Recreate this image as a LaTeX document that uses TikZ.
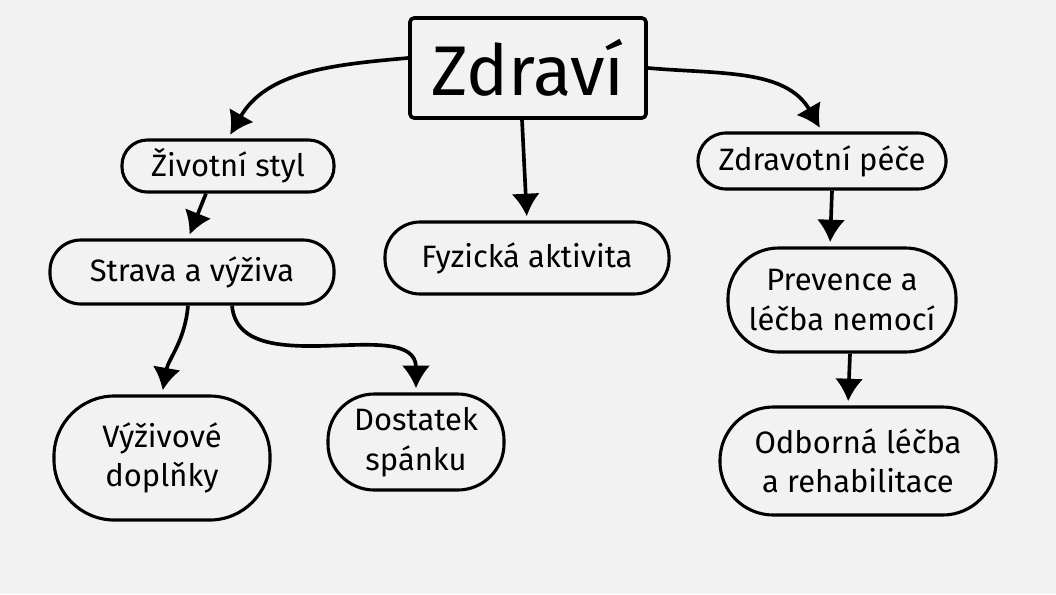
\documentclass[tikz,border=0pt]{standalone}
\usepackage{fontspec}
\setmainfont{Fira Sans}
\usetikzlibrary{arrows.meta}

\begin{document}
\begin{tikzpicture}[x=0.025cm, y=-0.025cm,
    box/.style={draw, line width=2.2pt, rounded corners=18pt, align=center,
                inner sep=2pt, font=\fontsize{22}{28}\selectfont},
    link/.style={-{Latex[length=16pt,width=20pt]}, line width=2.6pt, shorten >=3pt}
]

\fill[black!5] (0,0) rectangle (1056,594);

\node[draw, line width=2.6pt, rounded corners=3pt, minimum width=5.9cm, minimum height=2.5cm,
      font=\fontsize{50}{54}\selectfont] (zdravi) at (528,68) {Zdraví};

\node[box, minimum width=5.3cm, minimum height=1.3cm] (styl) at (228,166) {Životní styl};
\node[box, minimum width=6.2cm, minimum height=1.4cm, rounded corners=20pt] (pece) at (822,161) {Zdravotní péče};
\node[box, minimum width=7.1cm, minimum height=1.8cm, rounded corners=25pt] (fyz) at (527,258) {Fyzická aktivita};
\node[box, minimum width=7.1cm, minimum height=1.6cm, rounded corners=22pt] (strava) at (192,272) {Strava a výživa};
\node[box, minimum width=5.7cm, minimum height=2.6cm, rounded corners=36pt] (prevence) at (842,300) {Prevence a\\léčba nemocí};
\node[box, minimum width=5.4cm, minimum height=3.1cm, rounded corners=43pt] (doplnky) at (162,458) {Výživové\\doplňky};
\node[box, minimum width=4.4cm, minimum height=2.4cm, rounded corners=33pt] (spanek) at (416,442) {Dostatek\\spánku};
\node[box, minimum width=6.9cm, minimum height=2.7cm, rounded corners=38pt] (odborna) at (858,461) {Odborná léčba\\a rehabilitace};

% from the root
\draw[link] ([yshift=0.25cm]zdravi.west) to[out=185, in=60] (styl.north);
\draw[link] (zdravi.east) to[out=-5, in=120] (pece.north);
\draw[link] ([xshift=-0.15cm]zdravi.south) -- (fyz.north);

% second level
\draw[link] ([xshift=-0.55cm]styl.south) -- ([xshift=-0.1cm]strava.north);
\draw[link] ([xshift=0.25cm]pece.south) -- ([xshift=-0.3cm]prevence.north);
\draw[link] ([xshift=-0.1cm]strava.south) to[out=-95, in=80] (doplnky.north);
\draw[link] ([xshift=1cm]strava.south) to[out=-85, in=90] (spanek.north);
\draw[link] ([xshift=0.2cm]prevence.south) -- ([xshift=-0.25cm]odborna.north);

\end{tikzpicture}
\end{document}
